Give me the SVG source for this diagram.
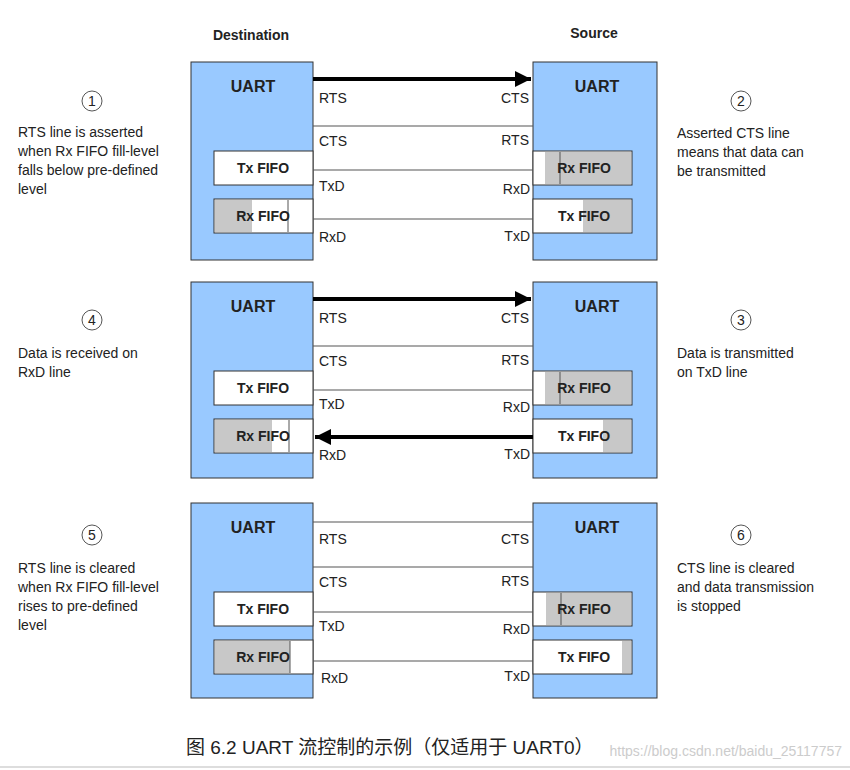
<svg xmlns="http://www.w3.org/2000/svg" width="850" height="770" viewBox="0 0 850 770">
<defs>
<marker id="ah" viewBox="0 0 10 10" refX="10" refY="5" markerWidth="5" markerHeight="4" orient="auto" markerUnits="strokeWidth"><path d="M0,0L10,5L0,10z" fill="#000"/></marker>
<style>
text{font-family:"Liberation Sans",Arial,sans-serif;fill:#222}
.box{fill:#99c9ff;stroke:#333;stroke-width:1}
.fifo{fill:#fff;stroke:#333;stroke-width:1}
.g{fill:#c8c8c8}
.vl{stroke:#555;stroke-width:1}
.ln{stroke:#555;stroke-width:1.2}
.b{font-weight:bold;font-size:16px}
.f{font-weight:bold;font-size:14px}
.s{font-size:14px}
.c{fill:none;stroke:#555;stroke-width:1}
.arr{stroke:#000;stroke-width:4;marker-end:url(#ah)}
</style>
</defs>
<rect width="850" height="770" fill="#fff"/>
<text x="251" y="40" class="f" text-anchor="middle" font-size="15">Destination</text>
<text x="594" y="38" class="f" text-anchor="middle" font-size="15">Source</text>

<g id="panel1" transform="translate(0,0)">
<g id="dst1"><rect class="box" x="191" y="62" width="122" height="198"/><text x="253" y="92" class="b" text-anchor="middle">UART</text>
<rect class="fifo" x="214" y="151" width="99" height="34"/><text x="263" y="173" class="f" text-anchor="middle">Tx FIFO</text>
<rect class="fifo" x="214" y="199" width="99" height="34"/><rect class="g" x="215" y="200" width="37" height="32"/><line class="vl" x1="288" y1="200" x2="288" y2="232"/><text x="263" y="221" class="f" text-anchor="middle">Rx FIFO</text></g>
<g id="src1"><rect class="box" x="533" y="62" width="124" height="198"/><text x="597" y="92" class="b" text-anchor="middle">UART</text>
<rect class="fifo" x="533" y="151" width="99" height="34"/><rect class="g" x="545" y="152" width="86" height="32"/><line class="vl" x1="560" y1="152" x2="560" y2="184"/><text x="584" y="173" class="f" text-anchor="middle">Rx FIFO</text>
<rect class="fifo" x="533" y="199" width="99" height="34"/><rect class="g" x="583" y="200" width="48" height="32"/><text x="584" y="221" class="f" text-anchor="middle">Tx FIFO</text></g>
<g id="lines1"><line class="ln" x1="313" y1="126" x2="533" y2="126"/><line class="ln" x1="313" y1="170" x2="533" y2="170"/><line class="ln" x1="313" y1="219" x2="533" y2="219"/>
<line class="arr" x1="313" y1="79" x2="531" y2="79"/>
<text x="319" y="103" class="s">RTS</text><text x="529" y="103" class="s" text-anchor="end">CTS</text>
<text x="319" y="146" class="s">CTS</text><text x="529" y="145" class="s" text-anchor="end">RTS</text>
<text x="319" y="191" class="s">TxD</text><text x="530" y="194" class="s" text-anchor="end">RxD</text>
<text x="319" y="242" class="s">RxD</text><text x="530" y="241" class="s" text-anchor="end">TxD</text></g>
<g id="n1"><circle class="c" cx="92" cy="101" r="10"/><text x="92" y="106" class="s" text-anchor="middle">1</text>
<text class="s" x="18" y="137">RTS line is asserted</text><text class="s" x="18" y="156">when Rx FIFO fill-level</text><text class="s" x="18" y="175">falls below pre-defined</text><text class="s" x="18" y="194">level</text></g>
<g id="n2"><circle class="c" cx="741" cy="101" r="10"/><text x="741" y="106" class="s" text-anchor="middle">2</text>
<text class="s" x="677" y="138">Asserted CTS line</text><text class="s" x="677" y="157">means that data can</text><text class="s" x="677" y="176">be transmitted</text></g>
</g>

<g id="panel2" transform="translate(0,220)">
<g id="dst2"><rect class="box" x="191" y="62" width="122" height="196"/><text x="253" y="92" class="b" text-anchor="middle">UART</text>
<rect class="fifo" x="214" y="151" width="99" height="34"/><text x="263" y="173" class="f" text-anchor="middle">Tx FIFO</text>
<rect class="fifo" x="214" y="199" width="99" height="34"/><rect class="g" x="215" y="200" width="57" height="32"/><line class="vl" x1="289" y1="200" x2="289" y2="232"/><text x="263" y="221" class="f" text-anchor="middle">Rx FIFO</text></g>
<g id="src2"><rect class="box" x="533" y="62" width="124" height="196"/><text x="597" y="92" class="b" text-anchor="middle">UART</text>
<rect class="fifo" x="533" y="151" width="99" height="34"/><rect class="g" x="545" y="152" width="86" height="32"/><line class="vl" x1="560" y1="152" x2="560" y2="184"/><text x="584" y="173" class="f" text-anchor="middle">Rx FIFO</text>
<rect class="fifo" x="533" y="199" width="99" height="34"/><rect class="g" x="603" y="200" width="28" height="32"/><text x="584" y="221" class="f" text-anchor="middle">Tx FIFO</text></g>
<g id="lines2"><line class="ln" x1="313" y1="126" x2="533" y2="126"/><line class="ln" x1="313" y1="170" x2="533" y2="170"/>
<line class="arr" x1="313" y1="79" x2="531" y2="79"/><line class="arr" x1="533" y1="217" x2="315" y2="217"/>
<text x="319" y="103" class="s">RTS</text><text x="529" y="103" class="s" text-anchor="end">CTS</text>
<text x="319" y="146" class="s">CTS</text><text x="529" y="145" class="s" text-anchor="end">RTS</text>
<text x="319" y="189" class="s">TxD</text><text x="530" y="192" class="s" text-anchor="end">RxD</text>
<text x="319" y="240" class="s">RxD</text><text x="530" y="239" class="s" text-anchor="end">TxD</text></g>
<g id="n4"><circle class="c" cx="92" cy="100" r="10"/><text x="92" y="105" class="s" text-anchor="middle">4</text>
<text class="s" x="18" y="138">Data is received on</text><text class="s" x="18" y="157">RxD line</text></g>
<g id="n3"><circle class="c" cx="741" cy="100" r="10"/><text x="741" y="105" class="s" text-anchor="middle">3</text>
<text class="s" x="677" y="138">Data is transmitted</text><text class="s" x="677" y="157">on TxD line</text></g>
</g>

<g id="panel3" transform="translate(0,441)">
<g id="dst3"><rect class="box" x="191" y="62" width="122" height="195"/><text x="253" y="92" class="b" text-anchor="middle">UART</text>
<rect class="fifo" x="214" y="151" width="99" height="34"/><text x="263" y="173" class="f" text-anchor="middle">Tx FIFO</text>
<rect class="fifo" x="214" y="199" width="99" height="34"/><rect class="g" x="215" y="200" width="75" height="32"/><line class="vl" x1="290" y1="200" x2="290" y2="232"/><text x="263" y="221" class="f" text-anchor="middle">Rx FIFO</text></g>
<g id="src3"><rect class="box" x="533" y="62" width="124" height="195"/><text x="597" y="92" class="b" text-anchor="middle">UART</text>
<rect class="fifo" x="533" y="151" width="99" height="34"/><rect class="g" x="546" y="152" width="85" height="32"/><line class="vl" x1="561" y1="152" x2="561" y2="184"/><text x="584" y="173" class="f" text-anchor="middle">Rx FIFO</text>
<rect class="fifo" x="533" y="199" width="99" height="34"/><rect class="g" x="622" y="200" width="9" height="32"/><text x="584" y="221" class="f" text-anchor="middle">Tx FIFO</text></g>
<g id="lines3"><line class="ln" x1="313" y1="81" x2="533" y2="81"/><line class="ln" x1="313" y1="126" x2="533" y2="126"/><line class="ln" x1="313" y1="171" x2="533" y2="171"/><line class="ln" x1="313" y1="220" x2="533" y2="220"/>
<text x="319" y="103" class="s">RTS</text><text x="529" y="103" class="s" text-anchor="end">CTS</text>
<text x="319" y="146" class="s">CTS</text><text x="529" y="145" class="s" text-anchor="end">RTS</text>
<text x="319" y="190" class="s">TxD</text><text x="530" y="193" class="s" text-anchor="end">RxD</text>
<text x="321" y="242" class="s">RxD</text><text x="530" y="240" class="s" text-anchor="end">TxD</text></g>
<g id="n5"><circle class="c" cx="92" cy="94" r="10"/><text x="92" y="99" class="s" text-anchor="middle">5</text>
<text class="s" x="18" y="132">RTS line is cleared</text><text class="s" x="18" y="151">when Rx FIFO fill-level</text><text class="s" x="18" y="170">rises to pre-defined</text><text class="s" x="18" y="189">level</text></g>
<g id="n6"><circle class="c" cx="741" cy="94" r="10"/><text x="741" y="99" class="s" text-anchor="middle">6</text>
<text class="s" x="677" y="132">CTS line is cleared</text><text class="s" x="677" y="151">and data transmission</text><text class="s" x="677" y="170">is stopped</text></g>
</g>

<text x="186" y="754" font-size="19" style="font-family:'Liberation Sans','Noto Sans CJK SC',sans-serif">图 6.2   UART 流控制的示例（仅适用于 UART0）</text>
<text x="842" y="756" font-size="14" text-anchor="end" style="fill:#ccc">https://blog.csdn.net/baidu_25117757</text>
<line x1="0" y1="767" x2="850" y2="767" stroke="#ddd" stroke-width="2"/>
</svg>
